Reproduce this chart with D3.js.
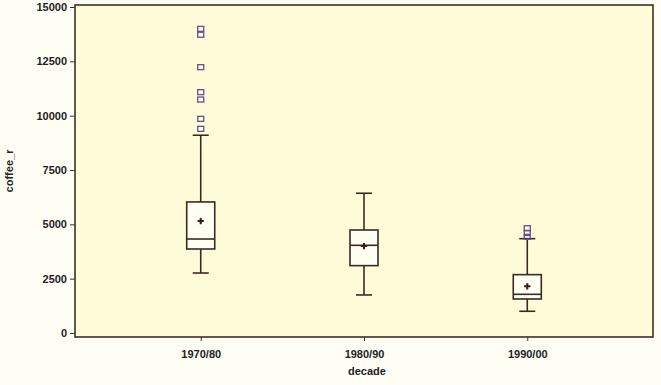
<!DOCTYPE html>
<html>
<head>
<meta charset="utf-8">
<script src="https://cdn.jsdelivr.net/npm/d3@7"></script>
<style>
  body { margin: 0; background: #fefef4; }
  svg { display: block; font-family: "Liberation Sans", Arial, sans-serif; }
  .tick text { font-weight: bold; font-size: 11px; fill: #222; }
  .axis-label { font-weight: bold; font-size: 11px; fill: #222; }
</style>
</head>
<body>
<svg id="chart" width="661" height="385"></svg>
<script>
// data
const decades = ["1970/80", "1980/90", "1990/00"];
const lowWhisker = [2760, 1750, 1000];
const q1 = [3865, 3100, 1565];
const median = [4325, 4035, 1780];
const q3 = [6030, 4740, 2685];
const highWhisker = [9100, 6430, 4340];
const means = [5150, 4000, 2150];
const outliers = [
    [13970, 13700, 12210, 11060, 10720, 9830, 9370],
    [],
    [4800, 4580, 4400]
];
const yTicks = [0, 2500, 5000, 7500, 10000, 12500, 15000];

const svg = d3.select("#chart");
const margin = { top: 5, right: 8, bottom: 48, left: 75 };
const width = +svg.attr("width") - margin.left - margin.right;
const height = +svg.attr("height") - margin.top - margin.bottom;

const g = svg.append("g")
    .attr("transform", "translate(" + margin.left + "," + margin.top + ")");

// plot background
g.append("rect")
    .attr("width", width)
    .attr("height", height)
    .attr("fill", "#fdfbd8");

// scales
const x = d3.scalePoint()
    .domain(decades)
    .range([0, width])
    .padding(0.77);

const y = d3.scaleLinear()
    .domain([0, 15000])
    .range([height - 4, 2]);

// axes
const xAxis = g.append("g")
    .attr("transform", "translate(0," + height + ")")
    .call(d3.axisBottom(x).tickSize(4).tickPadding(9));

const yAxis = g.append("g")
    .call(d3.axisLeft(y).tickValues(yTicks).tickFormat(d3.format("d")).tickSize(5).tickPadding(3));

[xAxis, yAxis].forEach(a => {
    a.select(".domain").remove();
    a.selectAll(".tick line").attr("stroke", "#333");
});

// frame
g.append("rect")
    .attr("width", width)
    .attr("height", height)
    .attr("fill", "none")
    .attr("stroke", "#3b3128")
    .attr("stroke-width", 1.6);

const boxes = decades.map((d, i) => ({
    d: d, lo: lowWhisker[i], q1: q1[i], med: median[i], q3: q3[i],
    hi: highWhisker[i], mean: means[i], out: outliers[i]
}));

const boxW = 28, capW = 16;
const ink = "#3b2a22";

const box = g.selectAll(".box").data(boxes).enter().append("g")
    .attr("class", "box")
    .attr("transform", d => "translate(" + x(d.d) + ",0)");

// whiskers
box.append("line")
    .attr("x1", 0).attr("x2", 0)
    .attr("y1", d => y(d.hi)).attr("y2", d => y(d.q3))
    .attr("stroke", ink).attr("stroke-width", 1.6);
box.append("line")
    .attr("x1", 0).attr("x2", 0)
    .attr("y1", d => y(d.q1)).attr("y2", d => y(d.lo))
    .attr("stroke", ink).attr("stroke-width", 1.6);
box.append("line")
    .attr("x1", -capW / 2).attr("x2", capW / 2)
    .attr("y1", d => y(d.hi)).attr("y2", d => y(d.hi))
    .attr("stroke", ink).attr("stroke-width", 1.6);
box.append("line")
    .attr("x1", -capW / 2).attr("x2", capW / 2)
    .attr("y1", d => y(d.lo)).attr("y2", d => y(d.lo))
    .attr("stroke", ink).attr("stroke-width", 1.6);

// box body
box.append("rect")
    .attr("x", -boxW / 2)
    .attr("width", boxW)
    .attr("y", d => y(d.q3))
    .attr("height", d => y(d.q1) - y(d.q3))
    .attr("fill", "#fffff4")
    .attr("stroke", ink)
    .attr("stroke-width", 1.6);

// median
box.append("line")
    .attr("x1", -boxW / 2).attr("x2", boxW / 2)
    .attr("y1", d => y(d.med)).attr("y2", d => y(d.med))
    .attr("stroke", ink).attr("stroke-width", 1.6);

// mean cross
const meanMark = d3.symbol().type(d3.symbolCross).size(22);
box.append("path")
    .attr("d", meanMark)
    .attr("transform", d => "translate(0," + y(d.mean) + ")")
    .attr("fill", "#3a1c1c");

// outliers
box.selectAll(".out").data(d => d.out).enter().append("rect")
    .attr("class", "out")
    .attr("x", -3)
    .attr("y", v => y(v) - 3)
    .attr("width", 6)
    .attr("height", 5)
    .attr("fill", "none")
    .attr("stroke", "#5e5492")
    .attr("stroke-width", 1.3);

// axis labels
svg.append("text")
    .attr("class", "axis-label")
    .attr("x", margin.left + width / 2 + 3)
    .attr("y", 375)
    .attr("text-anchor", "middle")
    .text("decade");

svg.append("text")
    .attr("class", "axis-label")
    .attr("transform", "translate(9," + (margin.top + height / 2) + ") rotate(-90)")
    .attr("text-anchor", "middle")
    .attr("dy", "0.35em")
    .text("coffee_r");
</script>
</body>
</html>
